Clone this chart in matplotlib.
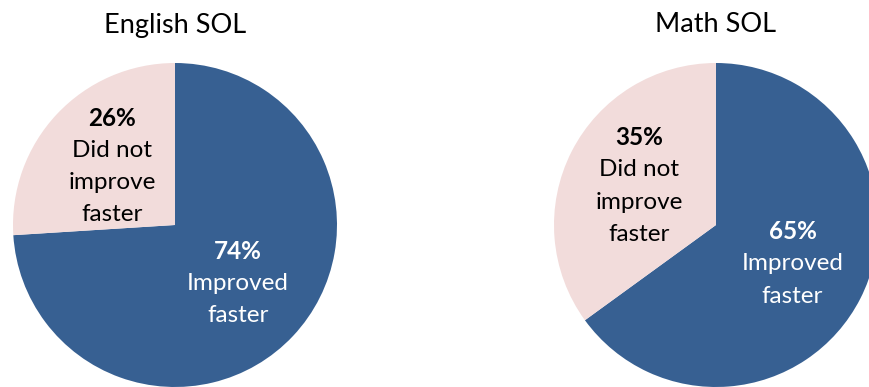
import numpy as np
import matplotlib.pyplot as plt

plt.rcParams["font.family"] = ["Lato", "DejaVu Sans"]

titles = ["English SOL", "Math SOL"]
improved = [74, 65]
not_improved = [26, 35]
slice_labels = [["Improved", "faster"], ["Did not", "improve", "faster"]]

blue = "#376092"
pink = "#F2DCDB"
text_colors = ["white", "black"]

W, H = 870, 387
centers = [(175, 225), (716, 225)]
radius = 162
label_r = 0.53
pitch = 0.198

fig = plt.figure(figsize=(W / 100, H / 100), dpi=100)

for k in range(2):
    cx, cy = centers[k]
    ax = fig.add_axes([(cx - radius) / W, (H - cy - radius) / H,
                       2 * radius / W, 2 * radius / H])
    values = [improved[k], not_improved[k]]
    wedges, _ = ax.pie(values, colors=[blue, pink], startangle=90,
                       counterclock=False, radius=1,
                       wedgeprops=dict(linewidth=0))
    # percentage in bold, then the slice name below it
    for w, v, lines, tc in zip(wedges, values, slice_labels, text_colors):
        ang = np.deg2rad((w.theta1 + w.theta2) / 2)
        x = label_r * np.cos(ang)
        y = label_r * np.sin(ang)
        rows = ["%d%%" % v] + lines
        n = len(rows)
        for i, row in enumerate(rows):
            yy = y + (n - 1) / 2 * pitch - i * pitch
            ax.text(x, yy, row, ha="center", va="center", color=tc,
                    fontsize=17.5, fontweight="bold" if i == 0 else "normal")
    ax.set_xlim(-1, 1)
    ax.set_ylim(-1, 1)
    ax.set_aspect("equal")
    ax.axis("off")
    fig.text(cx / W, 1 - 25 / H, titles[k], ha="center", va="center",
             fontsize=19.5)

fig.savefig("out.png", dpi=100)
